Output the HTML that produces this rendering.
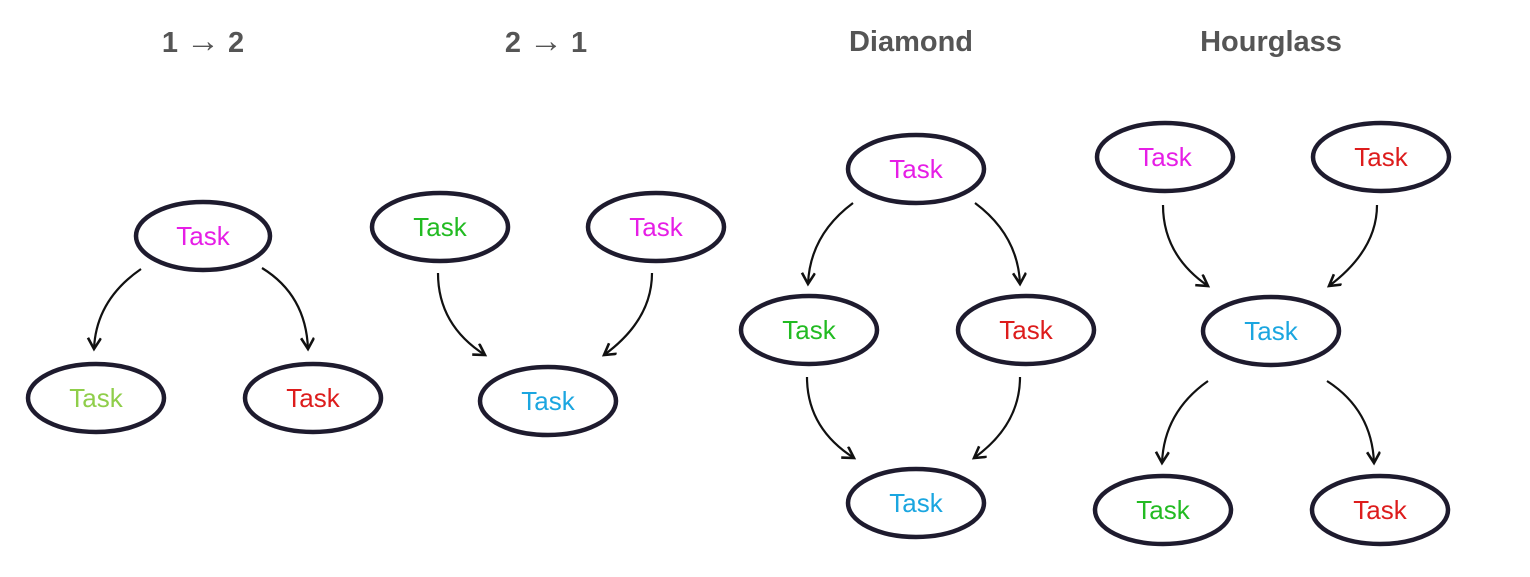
<!DOCTYPE html>
<html><head><style>
html,body{margin:0;padding:0;background:#fff;}
svg{display:block}
.t{font-family:"Liberation Sans",Arial,sans-serif;font-weight:bold;font-size:29px;fill:#555;text-anchor:middle}
.n{font-family:"Liberation Sans",Arial,sans-serif;font-size:26px;text-anchor:middle;dominant-baseline:central}
ellipse{fill:#fff;stroke:#1e1b2e;stroke-width:4.5}
path.a{fill:none;stroke:#111;stroke-width:2.2;marker-end:url(#ah)}
</style></head><body>
<svg width="1530" height="577" viewBox="0 0 1530 577" xmlns="http://www.w3.org/2000/svg">
<defs>
<marker id="ah" markerWidth="20" markerHeight="20" refX="12" refY="7" orient="auto" markerUnits="userSpaceOnUse">
<path d="M1,0.5 L12,7 L1,13.5" fill="none" stroke="#111" stroke-width="2.6"/>
</marker>
</defs>
<text class="t" x="203" y="52">1 <tspan style="font-size:34px">→</tspan> 2</text>
<text class="t" x="546" y="52">2 <tspan style="font-size:34px">→</tspan> 1</text>
<text class="t" x="911" y="51">Diamond</text>
<text class="t" x="1271" y="51">Hourglass</text>

<path class="a" d="M141,269 Q96,300 94,349"/>
<path class="a" d="M262,268 Q306,295 308,349"/>
<ellipse cx="203" cy="236" rx="67" ry="34"/><text class="n" x="203" y="236" fill="#e61ee6">Task</text>
<ellipse cx="96" cy="398" rx="68" ry="34"/><text class="n" x="96" y="398" fill="#8fce4a">Task</text>
<ellipse cx="313" cy="398" rx="68" ry="34"/><text class="n" x="313" y="398" fill="#dd1c1c">Task</text>

<path class="a" d="M438,273 Q438,325 485,355"/>
<path class="a" d="M652,273 Q652,320 604,355"/>
<ellipse cx="440" cy="227" rx="68" ry="34"/><text class="n" x="440" y="227" fill="#22bb22">Task</text>
<ellipse cx="656" cy="227" rx="68" ry="34"/><text class="n" x="656" y="227" fill="#e61ee6">Task</text>
<ellipse cx="548" cy="401" rx="68" ry="34"/><text class="n" x="548" y="401" fill="#1ba6e0">Task</text>

<path class="a" d="M853,203 Q810,235 808,284"/>
<path class="a" d="M975,203 Q1018,235 1020,284"/>
<path class="a" d="M807,377 Q807,428 854,458"/>
<path class="a" d="M1020,377 Q1020,425 974,458"/>
<ellipse cx="916" cy="169" rx="68" ry="34"/><text class="n" x="916" y="169" fill="#e61ee6">Task</text>
<ellipse cx="809" cy="330" rx="68" ry="34"/><text class="n" x="809" y="330" fill="#22bb22">Task</text>
<ellipse cx="1026" cy="330" rx="68" ry="34"/><text class="n" x="1026" y="330" fill="#dd1c1c">Task</text>
<ellipse cx="916" cy="503" rx="68" ry="34"/><text class="n" x="916" y="503" fill="#1ba6e0">Task</text>

<path class="a" d="M1163,205 Q1163,255 1208,286"/>
<path class="a" d="M1377,205 Q1377,250 1329,286"/>
<path class="a" d="M1208,381 Q1164,412 1162,463"/>
<path class="a" d="M1327,381 Q1372,410 1374,463"/>
<ellipse cx="1165" cy="157" rx="68" ry="34"/><text class="n" x="1165" y="157" fill="#e61ee6">Task</text>
<ellipse cx="1381" cy="157" rx="68" ry="34"/><text class="n" x="1381" y="157" fill="#dd1c1c">Task</text>
<ellipse cx="1271" cy="331" rx="68" ry="34"/><text class="n" x="1271" y="331" fill="#1ba6e0">Task</text>
<ellipse cx="1163" cy="510" rx="68" ry="34"/><text class="n" x="1163" y="510" fill="#22bb22">Task</text>
<ellipse cx="1380" cy="510" rx="68" ry="34"/><text class="n" x="1380" y="510" fill="#dd1c1c">Task</text>
</svg>
</body></html>
